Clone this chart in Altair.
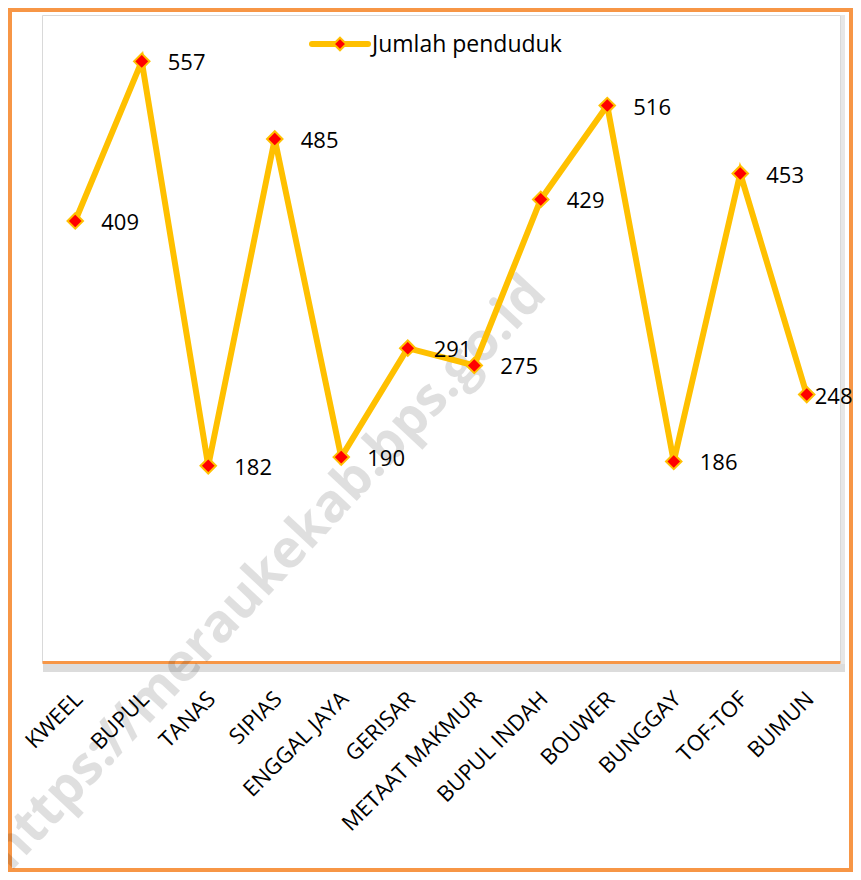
import altair as alt
import pandas as pd

categories = ["KWEEL", "BUPUL", "TANAS", "SIPIAS", "ENGGAL JAYA", "GERISAR",
              "METAAT MAKMUR", "BUPUL INDAH", "BOUWER", "BUNGGAY", "TOF-TOF", "BUMUN"]
values = [409, 557, 182, 485, 190, 291, 275, 429, 516, 186, 453, 248]
series_name = "Jumlah penduduk"
watermark = "https://meraukekab.bps.go.id"

df = pd.DataFrame({"desa": categories, "jumlah": values})
one = pd.DataFrame({"k": [0]})

W, H = 798, 647
LINE = "#FFC000"
ORANGE = "#F79646"
FONT = "Open Sans"

x = alt.X("desa:N", sort=categories, title=None,
          scale=alt.Scale(type="point", padding=0.5),
          axis=alt.Axis(labelAngle=-45, labelAlign="right", labelBaseline="top",
                        labelPadding=26, labelOffset=-4, labelFontSize=22, labelFont=FONT,
                        labelLimit=400,
                        labelColor="#000000", ticks=False, domainColor=ORANGE,
                        domainWidth=3, grid=False, labelOverlap=False))
y = alt.Y("jumlah:Q", scale=alt.Scale(domain=[0, 600], nice=False, zero=True), axis=None)

border = alt.Chart(one).mark_rect(fillOpacity=0, stroke=ORANGE, strokeWidth=4).encode(
    x=alt.value(-32), x2=alt.value(809), y=alt.value(-5), y2=alt.value(855))

shadow_b = alt.Chart(one).mark_rect(fill="#bfbfbf", opacity=0.55).encode(
    x=alt.value(1), x2=alt.value(803), y=alt.value(649), y2=alt.value(657))
shadow_r = alt.Chart(one).mark_rect(fill="#d0d0d0", opacity=0.5).encode(
    x=alt.value(799), x2=alt.value(803), y=alt.value(0), y2=alt.value(649))

wm = alt.Chart(one).mark_text(text=watermark, font=FONT, fontWeight="bold", fontSize=53,
                              angle=313, color="#000000", opacity=0.12,
                              align="center", baseline="middle").encode(
    x=alt.value(226), y=alt.value(558))

line = alt.Chart(df).mark_line(color=LINE, strokeWidth=6, strokeCap="round").encode(x=x, y=y)
pts = alt.Chart(df).mark_point(shape="diamond", filled=True, fill="#FF0000", stroke=LINE,
                               strokeWidth=2, size=240, opacity=1).encode(x=x, y=y)

lbl_common = dict(align="left", baseline="middle", fontSize=22, font=FONT, color="#000000", dy=2)
labels = alt.Chart(df).transform_filter(alt.datum.desa != "BUMUN").mark_text(dx=26, **lbl_common).encode(
    x=x, y=y, text="jumlah:Q")
labels_last = alt.Chart(df).transform_filter(alt.datum.desa == "BUMUN").mark_text(dx=8, **lbl_common).encode(
    x=x, y=y, text="jumlah:Q")

leg_line = alt.Chart(one).mark_rule(color=LINE, strokeWidth=6, strokeCap="round").encode(
    x=alt.value(270), x2=alt.value(326), y=alt.value(29))
leg_pt = alt.Chart(one).mark_point(shape="diamond", filled=True, fill="#FF0000", stroke=LINE,
                                   strokeWidth=2, size=160, opacity=1).encode(
    x=alt.value(298), y=alt.value(29))
leg_txt = alt.Chart(one).mark_text(text=series_name, align="left", baseline="middle",
                                   fontSize=23, font=FONT, color="#000000").encode(
    x=alt.value(330), y=alt.value(30))

chart = alt.layer(border, shadow_b, shadow_r, wm, line, pts, labels, labels_last,
                  leg_line, leg_pt, leg_txt).properties(
    width=W, height=H,
    padding={"left": 34, "top": 7, "right": 13, "bottom": 210},
    autosize=alt.AutoSizeParams(type="none"),
    background="#ffffff",
).configure_view(stroke="#d9d9d9", strokeWidth=1)

chart.save("out.html", embed_options={"renderer": "svg", "actions": False})
